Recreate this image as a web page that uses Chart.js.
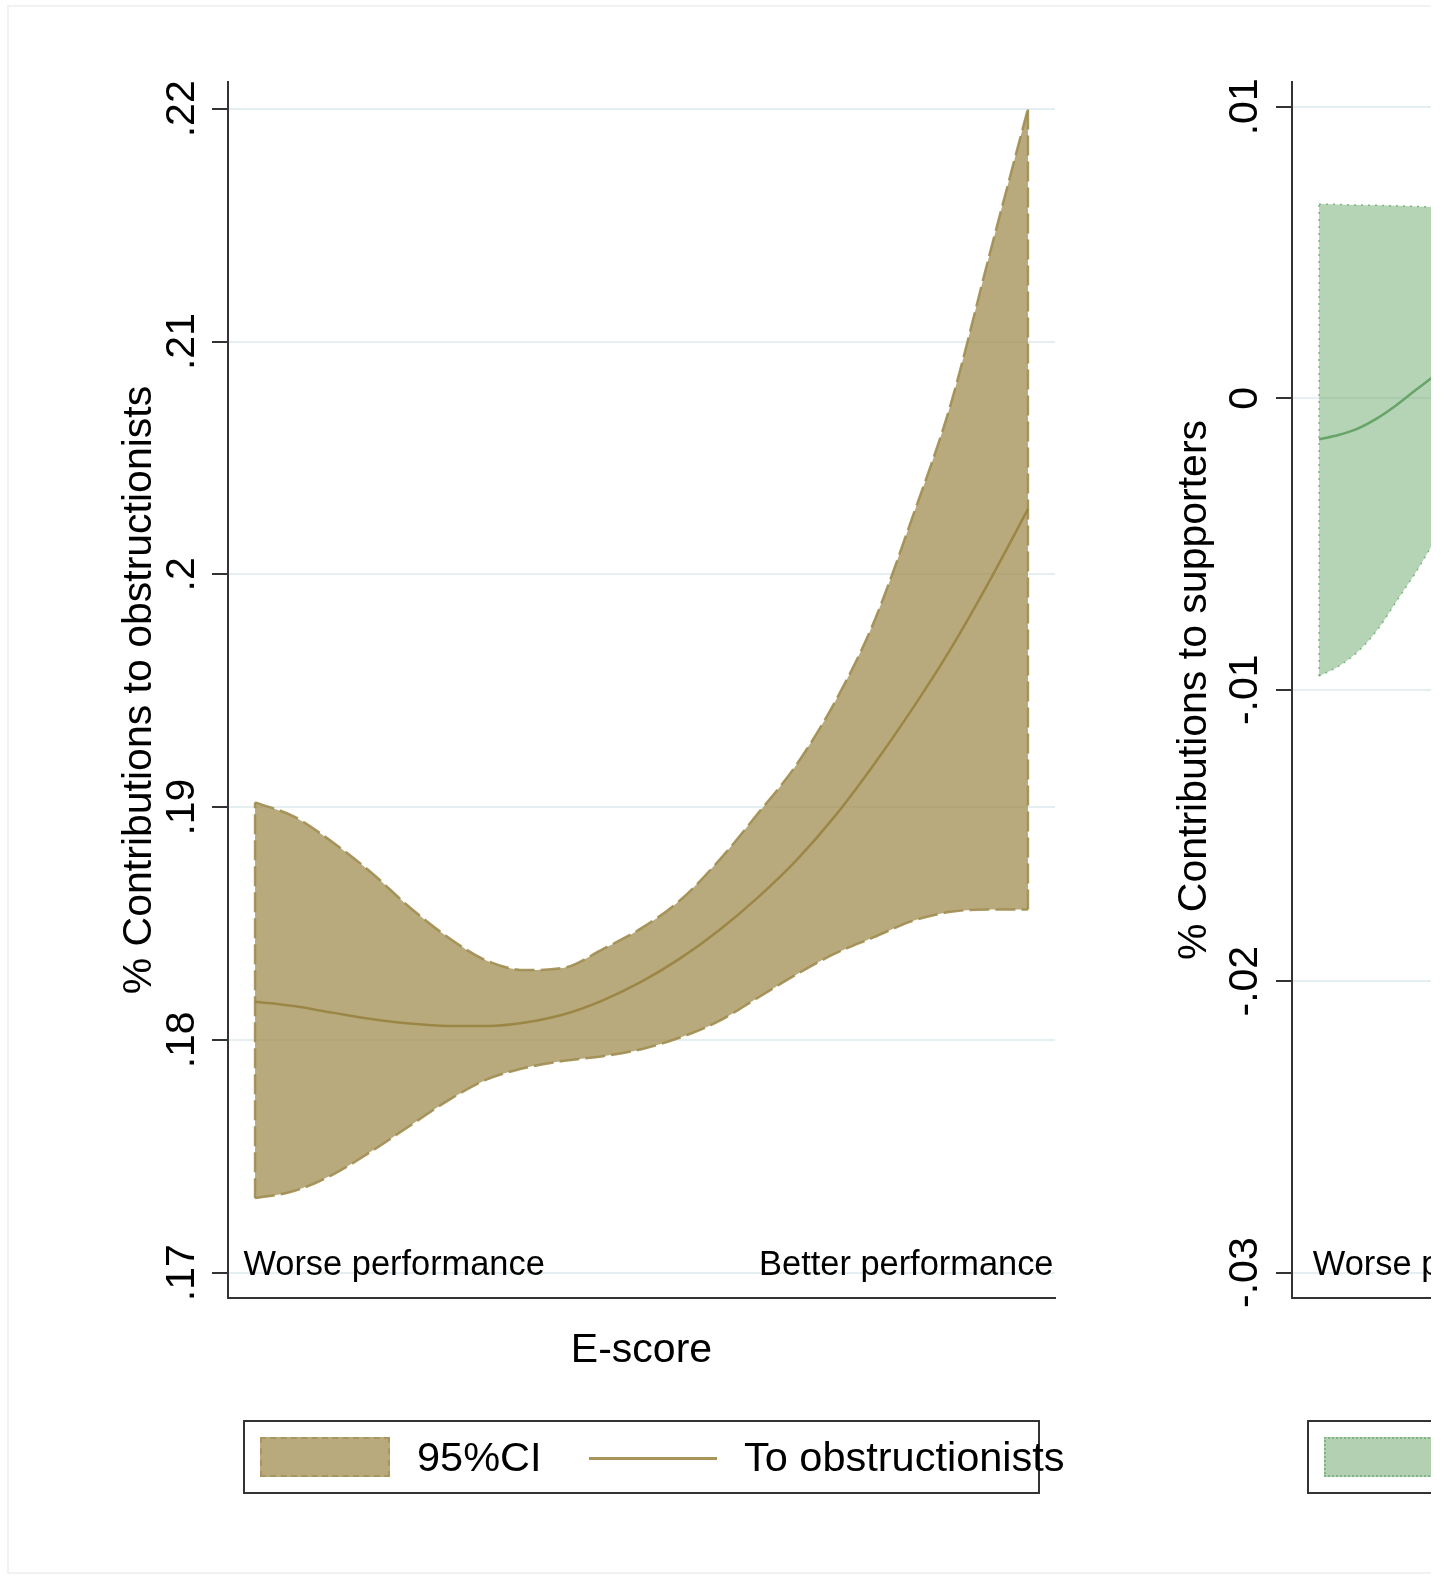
<!DOCTYPE html>
<html>
<head>
<meta charset="utf-8">
<script src="https://cdn.jsdelivr.net/npm/chart.js@4.4.0/dist/chart.umd.min.js"></script>
<style>
  body { margin: 0; background: #fff; width: 1447px; height: 1578px; overflow: hidden;
         font-family: "Liberation Sans", Arial, sans-serif; }
  #lienzo { position: absolute; left: 0; top: 0; width: 1431px; height: 1578px; overflow: hidden; }
  .marco { position: absolute; left: 7px; top: 5px; width: 1600px; height: 1565px; border: 2px solid #f1f3f3; }
  .panel { position: absolute; top: 0; width: 1100px; height: 1578px; }
  .panel canvas { position: absolute; left: 0; top: 0; }
  .leyenda { position: absolute; left: 243px; top: 1420px; width: 797px; height: 74px;
             box-sizing: border-box; border: 2px solid #333; }
  .muestra { position: absolute; left: 15px; top: 15px; width: 130px; height: 40px; box-sizing: border-box; }
  .texto { position: absolute; top: 10px; font-size: 41.5px; line-height: 50px; white-space: nowrap; color: #000; }
  .linea { position: absolute; left: 344px; top: 35px; width: 128px; height: 3px; }
</style>
</head>
<body>
<div id="lienzo">
  <div class="marco"></div>
  <div class="panel" style="left:0px">
    <canvas id="graficaObstruccionistas" width="1100" height="1578"></canvas>
    <div class="leyenda">
      <div class="muestra" style="background:#b8aa7c;border:2px dashed #a89560"></div>
      <div class="texto" style="left:172px">95%CI</div>
      <div class="linea" style="background:#a8955a"></div>
      <div class="texto" style="left:499px">To obstructionists</div>
    </div>
  </div>
  <div class="panel" style="left:1064px">
    <canvas id="graficaSeguidores" width="1100" height="1578"></canvas>
    <div class="leyenda">
      <div class="muestra" style="background:#b3d1b2;border:2px dotted #7fb57e"></div>
    </div>
  </div>
</div>
<script>
// E-score (eje x comun a los dos paneles)
const escoreObs = [0, 5, 10, 15, 20, 25, 30, 35, 40, 45, 50, 55, 60, 65, 70, 75, 80, 85, 90, 95, 100];
const obsMedia = [0.18164, 0.18145, 0.18117, 0.18090, 0.18070, 0.18060, 0.18060, 0.18075, 0.18110, 0.18170,
                  0.18250, 0.18350, 0.18470, 0.18610, 0.18770, 0.18960, 0.19180, 0.19420, 0.19680, 0.19970, 0.20280];
const obsSuperior = [0.1902, 0.1896, 0.1885, 0.1872, 0.1857, 0.1844, 0.1834, 0.1830, 0.1831, 0.1839,
                     0.1848, 0.1860, 0.1877, 0.1897, 0.1918, 0.1945, 0.1979, 0.2024, 0.2073, 0.2137, 0.2200];
const obsInferior = [0.1732, 0.1735, 0.1742, 0.1752, 0.1763, 0.1774, 0.1783, 0.1788, 0.1791, 0.1793,
                     0.1796, 0.1801, 0.1808, 0.1818, 0.1828, 0.1837, 0.1844, 0.1851, 0.1855, 0.1856, 0.1856];
const ticksObs = [0.17, 0.18, 0.19, 0.20, 0.21, 0.22];
const etiquetasObs = [".17", ".18", ".19", ".2", ".21", ".22"];

// panel derecho (solo se ve el principio)
const escoreSup = [0, 2.5, 5, 7.5, 10, 12.5, 15, 16];
const supMedia = [-0.00141, -0.00126, -0.00104, -0.00069, -0.00024, 0.00028, 0.00079, 0.00100];
const supSuperior = [0.00666, 0.00665, 0.00663, 0.00662, 0.00660, 0.00658, 0.00656, 0.00654];
const supInferior = [-0.00953, -0.00920, -0.00870, -0.00796, -0.00697, -0.00598, -0.00489, -0.00450];
const ticksSup = [-0.03, -0.02, -0.01, 0, 0.01];
const etiquetasSup = ["-.03", "-.02", "-.01", "0", ".01"];

const fuente = '"Liberation Sans", Arial, sans-serif';
const tamLetra = 41;
Chart.defaults.font.family = fuente;

function puntos(xs, ys) {
    return xs.map((x, i) => ({x: x, y: ys[i]}));
}

function anchoEtiquetas(etiquetas) {
    let ctx = document.createElement("canvas").getContext("2d");
    ctx.font = tamLetra + "px " + fuente;
    return Math.max(...etiquetas.map(e => ctx.measureText(e).width));
}

const textosRango = {
    id: "textosRango",
    afterDraw(chart, args, opts) {
        const {ctx, scales: {x, y}} = chart;
        ctx.save();
        ctx.font = "34.4px " + fuente;
        ctx.fillStyle = "#000";
        ctx.textBaseline = "alphabetic";
        const yb = y.getPixelForValue(opts.valorY) + 2;
        ctx.textAlign = "left";
        ctx.fillText("Worse performance", x.getPixelForValue(opts.xIzq), yb);
        ctx.textAlign = "right";
        ctx.fillText("Better performance", x.getPixelForValue(opts.xDer), yb);
        ctx.restore();
    }
};

function crearPanel(id, cfg) {
    const datasets = [
        {data: puntos(cfg.xs, cfg.media), borderColor: cfg.colorLinea, borderWidth: 2.5,
         cubicInterpolationMode: "monotone", pointRadius: 0, fill: false, order: 0},
        {data: puntos(cfg.xs, cfg.inferior), borderColor: cfg.colorBorde, borderWidth: cfg.anchoBorde,
         borderDash: cfg.trazo, cubicInterpolationMode: "monotone", pointRadius: 0, fill: false, order: 2},
        {data: puntos(cfg.xs, cfg.superior), borderColor: cfg.colorBorde, borderWidth: cfg.anchoBorde,
         borderDash: cfg.trazo, cubicInterpolationMode: "monotone", pointRadius: 0,
         fill: "-1", backgroundColor: cfg.relleno, order: 2},
        {data: [{x: cfg.xs[0], y: cfg.inferior[0]}, {x: cfg.xs[0], y: cfg.superior[0]}],
         borderColor: cfg.colorBorde, borderWidth: cfg.anchoBorde, borderDash: cfg.trazo,
         pointRadius: 0, fill: false, order: 1}
    ];
    if (cfg.bordeDerecho) {
        const n = cfg.xs.length - 1;
        datasets.push({data: [{x: cfg.xs[n], y: cfg.inferior[n]}, {x: cfg.xs[n], y: cfg.superior[n]}],
            borderColor: cfg.colorBorde, borderWidth: cfg.anchoBorde, borderDash: cfg.trazo,
            pointRadius: 0, fill: false, order: 1});
    }
    const ancho = anchoEtiquetas(cfg.etiquetas);
    new Chart(document.getElementById(id), {
        type: "line",
        data: {datasets: datasets},
        options: {
            responsive: false,
            animation: false,
            devicePixelRatio: 1,
            layout: {padding: {top: 82, bottom: 180, left: 0, right: 45}},
            plugins: {
                legend: {display: false},
                tooltip: {enabled: false},
                textosRango: {valorY: cfg.ticks[0], xIzq: cfg.xIzq, xDer: 103.3}
            },
            scales: {
                x: {
                    type: "linear", min: -3.5, max: 103.5,
                    ticks: {display: false},
                    grid: {display: false},
                    border: {display: true, color: "#333", width: 2},
                    title: {display: true, text: "E-score", color: "#000",
                            font: {size: tamLetra}, padding: {top: 0, bottom: 23}},
                    afterFit: s => { s.height = 100; }
                },
                y: {
                    type: "linear", min: cfg.min, max: cfg.max,
                    afterBuildTicks: s => { s.ticks = cfg.ticks.map(v => ({value: v})); },
                    afterFit: s => { s.width = 228; },
                    ticks: {
                        minRotation: 90, maxRotation: 90, crossAlign: "center",
                        padding: cfg.centroEtiqueta - ancho / 2,
                        color: "#000", font: {size: tamLetra},
                        callback: (v, i) => cfg.etiquetas[i]
                    },
                    grid: {color: "#e5eef0", lineWidth: 2, tickLength: 16, tickColor: "#333", tickWidth: 2},
                    border: {display: true, color: "#333", width: 2},
                    title: {display: true, text: cfg.titulo, color: "#000",
                            font: {size: tamLetra}, padding: {top: cfg.padTitulo, bottom: 0}}
                }
            }
        },
        plugins: [textosRango]
    });
}

crearPanel("graficaObstruccionistas", {
    xs: escoreObs, media: obsMedia, superior: obsSuperior, inferior: obsInferior,
    ticks: ticksObs, etiquetas: etiquetasObs, min: 0.16891, max: 0.22115,
    titulo: "% Contributions to obstructionists", padTitulo: 115, centroEtiqueta: 29.5,
    colorLinea: "rgba(150,128,60,0.85)", colorBorde: "rgba(160,141,80,0.9)", anchoBorde: 2.5,
    trazo: [20, 6], relleno: "rgba(160,141,80,0.75)", bordeDerecho: true, xIzq: -1.5
});

crearPanel("graficaSeguidores", {
    xs: escoreSup, media: supMedia, superior: supSuperior, inferior: supInferior,
    ticks: ticksSup, etiquetas: etiquetasSup, min: -0.03087, max: 0.01085,
    titulo: "% Contributions to supporters", padTitulo: 106, centroEtiqueta: 30,
    colorLinea: "rgba(95,160,95,0.9)", colorBorde: "rgba(110,168,110,0.8)", anchoBorde: 1.5,
    trazo: [2, 5], relleno: "rgba(120,175,120,0.55)", bordeDerecho: false, xIzq: -0.8
});
</script>
</body>
</html>
